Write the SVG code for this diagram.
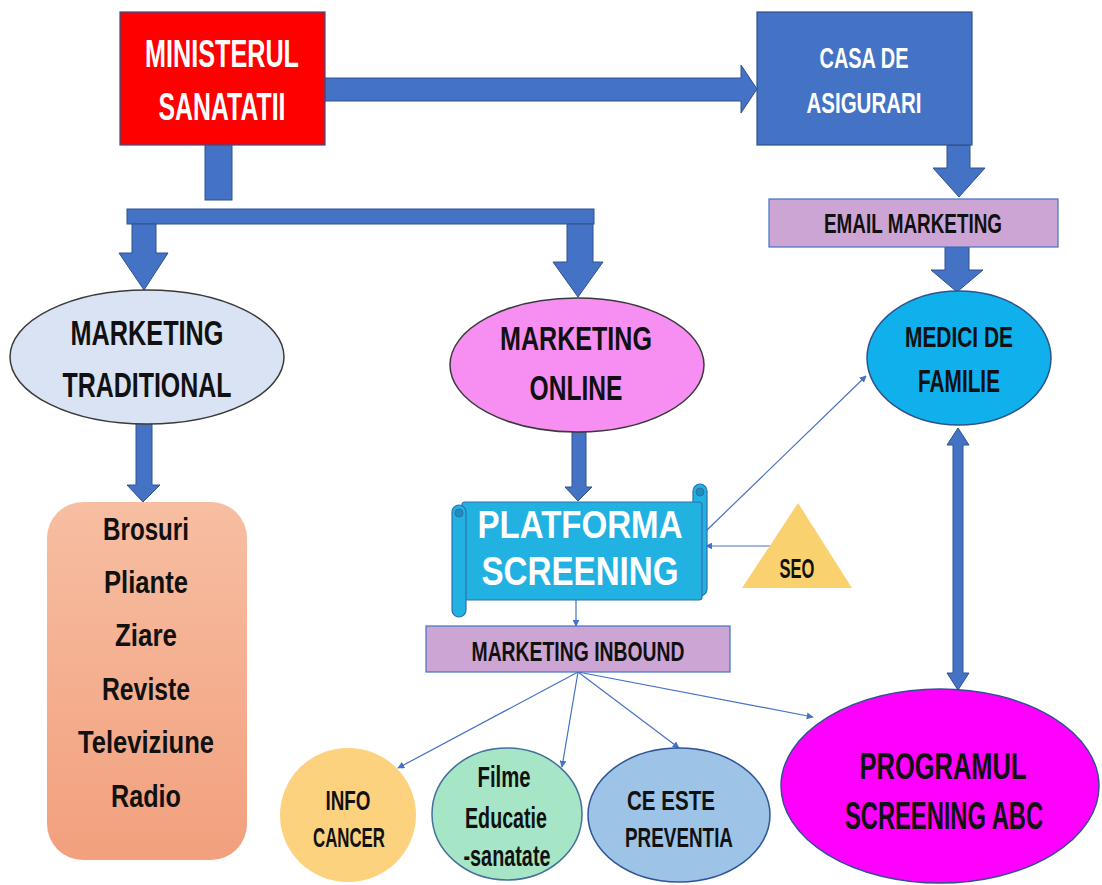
<svg xmlns="http://www.w3.org/2000/svg" width="1102" height="885" viewBox="0 0 1102 885">
  <defs>
    <style>
      .t { font-family: "Liberation Sans", Arial, sans-serif; font-weight: bold; text-anchor: middle; }
      .w { fill: #ffffff; }
      .k { fill: #111111; }
      .blk { fill: #4472C4; stroke: #2F528F; stroke-width: 1; }
      .thin { fill: none; stroke: #4472C4; stroke-width: 1.2; }
      .edge { stroke: #2F528F; stroke-width: 1.2; }
    </style>
    <marker id="ah" viewBox="0 0 10 10" refX="9" refY="5" markerWidth="7" markerHeight="7" orient="auto" markerUnits="userSpaceOnUse">
      <path d="M0,0 L10,5 L0,10 z" fill="#4472C4"/>
    </marker>
    <linearGradient id="salmon" x1="0" y1="0" x2="0" y2="1">
      <stop offset="0" stop-color="#F7BEA2"/>
      <stop offset="1" stop-color="#F2A07D"/>
    </linearGradient>
  </defs>

  <rect width="1102" height="885" fill="#ffffff"/>

  <!-- connectors -->
  <g id="connectors">
    <!-- ministry to insurance house -->
    <polygon class="blk" points="325,78 741,78 741,65 757,89 741,113 741,101 325,101"/>
    <!-- ministry stub and distribution bar -->
    <rect class="blk" x="205" y="144" width="27" height="56"/>
    <rect class="blk" x="127" y="209" width="467" height="15"/>
    <polygon class="blk" points="132,224 156,224 156,253 168,253 144,290 119,253 132,253"/>
    <polygon class="blk" points="567,224 593,224 593,262 603,262 578,297 553,262 567,262"/>
    <!-- traditional to media list -->
    <polygon class="blk" points="136,423 152,423 152,485 160,485 143,502 127,485 136,485"/>
    <!-- online to platform -->
    <polygon class="blk" points="572,432 586,432 586,487 592,487 578,501 565,487 572,487"/>
    <!-- insurance house to email marketing -->
    <polygon class="blk" points="947,145 970,145 970,168 985,168 959,197 933,168 947,168"/>
    <!-- email marketing to family doctors -->
    <polygon class="blk" points="945,247 969,247 969,270 983,270 957,292 931,270 945,270"/>
    <!-- family doctors <-> screening programme -->
    <polygon class="blk" points="958,428 969,445 963,445 963,673 969,673 958,690 947,673 953,673 953,445 947,445"/>

    <!-- thin links -->
    <line class="thin" x1="707" y1="530" x2="866" y2="376" marker-end="url(#ah)"/>
    <line class="thin" x1="770" y1="546" x2="706" y2="546" marker-end="url(#ah)"/>
    <line class="thin" x1="576" y1="600" x2="576" y2="626" marker-end="url(#ah)"/>
    <line class="thin" x1="578" y1="672" x2="398" y2="768" marker-end="url(#ah)"/>
    <line class="thin" x1="578" y1="672" x2="562" y2="767" marker-end="url(#ah)"/>
    <line class="thin" x1="578" y1="672" x2="679" y2="748" marker-end="url(#ah)"/>
    <line class="thin" x1="578" y1="672" x2="813" y2="717" marker-end="url(#ah)"/>
  </g>

  <g id="ministerul">
    <rect x="120" y="12" width="205" height="133" fill="#FF0000" class="edge"/>
    <text class="t w" x="222" y="67" font-size="39" textLength="154" lengthAdjust="spacingAndGlyphs">MINISTERUL</text>
    <text class="t w" x="222" y="120" font-size="39" textLength="127" lengthAdjust="spacingAndGlyphs">SANATATII</text>
  </g>

  <g id="casa">
    <rect x="757" y="12" width="215" height="133" fill="#4472C4" class="edge"/>
    <text class="t w" x="864" y="68" font-size="29" textLength="89" lengthAdjust="spacingAndGlyphs">CASA DE</text>
    <text class="t w" x="864" y="113" font-size="29" textLength="115" lengthAdjust="spacingAndGlyphs">ASIGURARI</text>
  </g>

  <g id="email">
    <rect x="769" y="199" width="289" height="48" fill="#CDA5D4" stroke="#4472C4" stroke-width="1.2"/>
    <text class="t k" x="913" y="233" font-size="28" textLength="178" lengthAdjust="spacingAndGlyphs">EMAIL MARKETING</text>
  </g>

  <g id="traditional">
    <ellipse cx="147" cy="357" rx="137" ry="67" fill="#DAE3F3" stroke="#3A3A3A" stroke-width="1.5"/>
    <text class="t k" x="147" y="345" font-size="35" textLength="153" lengthAdjust="spacingAndGlyphs">MARKETING</text>
    <text class="t k" x="147" y="397" font-size="35" textLength="169" lengthAdjust="spacingAndGlyphs">TRADITIONAL</text>
  </g>

  <g id="online">
    <ellipse cx="577" cy="365" rx="127" ry="67" fill="#F78FF3" stroke="#3A3A3A" stroke-width="1.5"/>
    <text class="t k" x="576" y="350" font-size="34" textLength="152" lengthAdjust="spacingAndGlyphs">MARKETING</text>
    <text class="t k" x="576" y="400" font-size="35" textLength="93" lengthAdjust="spacingAndGlyphs">ONLINE</text>
  </g>

  <g id="medici">
    <ellipse cx="959" cy="358" rx="92" ry="67" fill="#0FB0EC" stroke="#2F528F" stroke-width="1.5"/>
    <text class="t k" x="959" y="347" font-size="30" textLength="108" lengthAdjust="spacingAndGlyphs">MEDICI DE</text>
    <text class="t k" x="959" y="392" font-size="32" textLength="82" lengthAdjust="spacingAndGlyphs">FAMILIE</text>
  </g>

  <g id="media">
    <rect x="47" y="502" width="200" height="358" rx="36" ry="36" fill="url(#salmon)"/>
    <text class="t k" x="146" y="540" font-size="32" textLength="86" lengthAdjust="spacingAndGlyphs">Brosuri</text>
    <text class="t k" x="146" y="593" font-size="32" textLength="84" lengthAdjust="spacingAndGlyphs">Pliante</text>
    <text class="t k" x="146" y="646" font-size="32" textLength="62" lengthAdjust="spacingAndGlyphs">Ziare</text>
    <text class="t k" x="146" y="700" font-size="32" textLength="88" lengthAdjust="spacingAndGlyphs">Reviste</text>
    <text class="t k" x="146" y="753" font-size="32" textLength="136" lengthAdjust="spacingAndGlyphs">Televiziune</text>
    <text class="t k" x="146" y="807" font-size="32" textLength="70" lengthAdjust="spacingAndGlyphs">Radio</text>
  </g>

  <g id="platforma">
    <!-- horizontal scroll shape -->
    <rect x="693" y="484" width="14" height="112" rx="7" fill="#22B2E2" stroke="#2F6FB0" stroke-width="1.2"/>
    <rect x="462" y="502" width="240" height="98" rx="3" fill="#22B2E2" stroke="#2F6FB0" stroke-width="1.2"/>
    <rect x="452" y="505" width="14" height="112" rx="7" fill="#22B2E2" stroke="#2F6FB0" stroke-width="1.2"/>
    <circle cx="700" cy="492" r="4" fill="#1B8FBA" stroke="#2F6FB0" stroke-width="1"/>
    <circle cx="459" cy="513" r="4" fill="#1B8FBA" stroke="#2F6FB0" stroke-width="1"/>
    <text class="t w" x="580" y="538" font-size="39" textLength="205" lengthAdjust="spacingAndGlyphs">PLATFORMA</text>
    <text class="t w" x="580" y="585" font-size="41" textLength="197" lengthAdjust="spacingAndGlyphs">SCREENING</text>
  </g>

  <g id="seo">
    <polygon points="798,503 852,588 742,588" fill="#FAD16F"/>
    <text class="t k" x="797" y="578" font-size="28" textLength="35" lengthAdjust="spacingAndGlyphs">SEO</text>
  </g>

  <g id="inbound">
    <rect x="426" y="626" width="304" height="46" fill="#CDA5D4" stroke="#4472C4" stroke-width="1.2"/>
    <text class="t k" x="578" y="661" font-size="27" textLength="213" lengthAdjust="spacingAndGlyphs">MARKETING INBOUND</text>
  </g>

  <g id="info">
    <ellipse cx="348" cy="815" rx="68" ry="67" fill="#FDD27E"/>
    <text class="t k" x="348" y="810" font-size="28" textLength="45" lengthAdjust="spacingAndGlyphs">INFO</text>
    <text class="t k" x="349" y="847" font-size="28" textLength="72" lengthAdjust="spacingAndGlyphs">CANCER</text>
  </g>

  <g id="filme">
    <ellipse cx="507" cy="814" rx="75" ry="66" fill="#A6E6C6" stroke="#41719C" stroke-width="1.5"/>
    <text class="t k" x="504" y="787" font-size="30" textLength="53" lengthAdjust="spacingAndGlyphs">Filme</text>
    <text class="t k" x="506" y="828" font-size="30" textLength="82" lengthAdjust="spacingAndGlyphs">Educatie</text>
    <text class="t k" x="507" y="866" font-size="30" textLength="87" lengthAdjust="spacingAndGlyphs">-sanatate</text>
  </g>

  <g id="preventia">
    <ellipse cx="679" cy="815" rx="91" ry="67" fill="#9DC3E6" stroke="#2F5597" stroke-width="1.5"/>
    <text class="t k" x="671" y="810" font-size="28" textLength="88" lengthAdjust="spacingAndGlyphs">CE ESTE</text>
    <text class="t k" x="679" y="847" font-size="28" textLength="108" lengthAdjust="spacingAndGlyphs">PREVENTIA</text>
  </g>

  <g id="programul">
    <ellipse cx="940" cy="786" rx="159" ry="97" fill="#FF00FF" stroke="#2F528F" stroke-width="1.5"/>
    <text class="t k" x="943" y="779" font-size="36" textLength="167" lengthAdjust="spacingAndGlyphs">PROGRAMUL</text>
    <text class="t k" x="944" y="829" font-size="38" textLength="198" lengthAdjust="spacingAndGlyphs">SCREENING ABC</text>
  </g>
</svg>
